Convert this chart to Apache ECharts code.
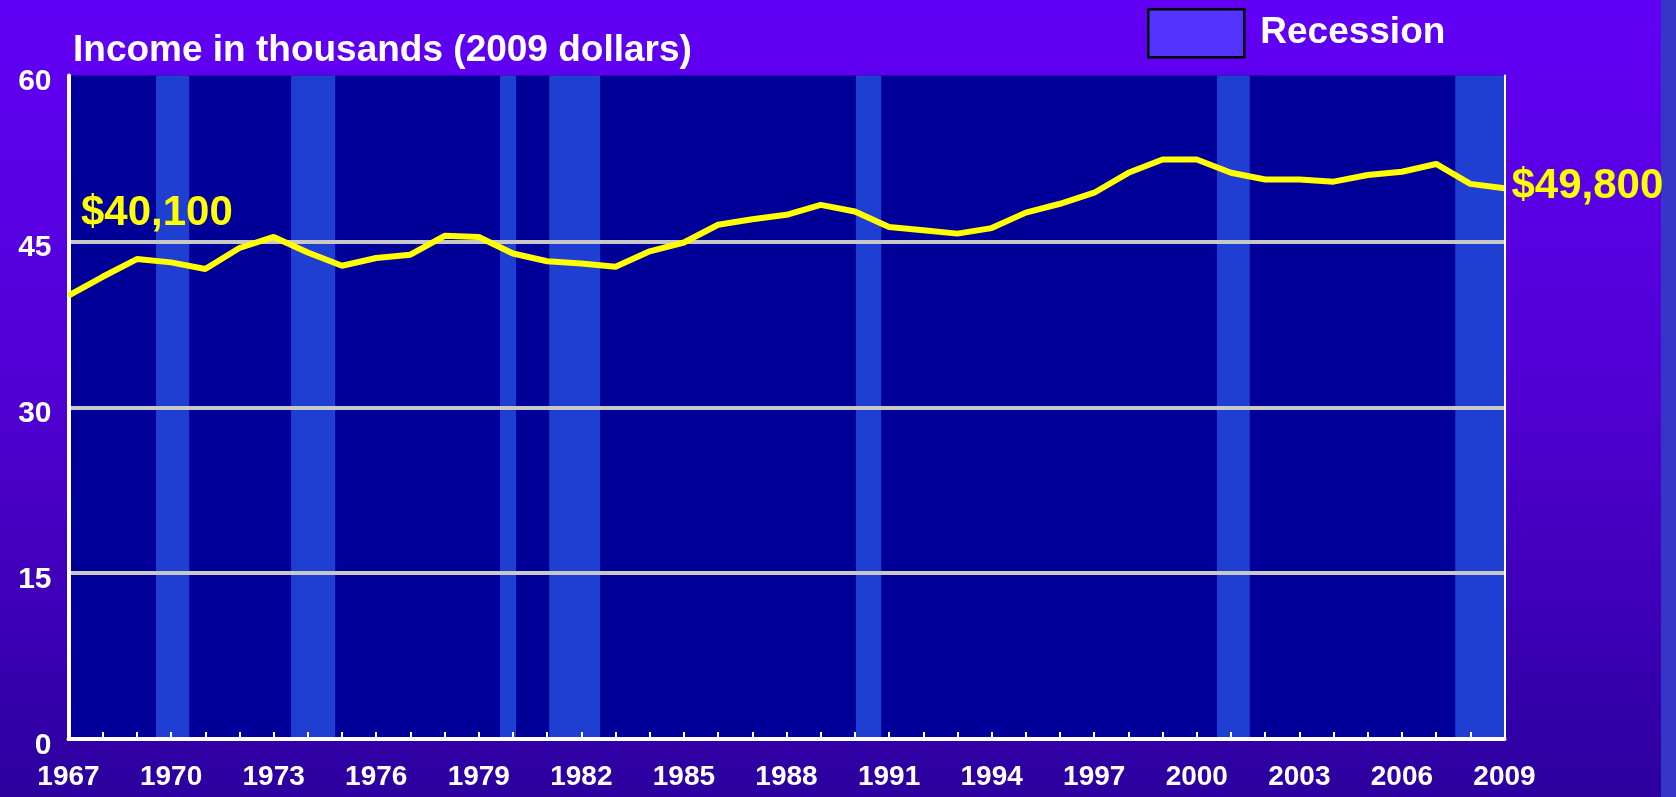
<!DOCTYPE html>
<html>
<head>
<meta charset="utf-8">
<title>Income in thousands (2009 dollars)</title>
<script src="https://cdn.jsdelivr.net/npm/echarts@6/dist/echarts.min.js"></script>
<style>
  html, body { margin: 0; padding: 0; }
  #chart { width: 1676px; height: 797px; }
</style>
</head>
<body>
<div id="chart"></div>
<script>
const years = [
  1967, 1968, 1969, 1970, 1971, 1972, 1973, 1974, 1975, 1976, 1977, 1978, 1979, 1980, 1981,
  1982, 1983, 1984, 1985, 1986, 1987, 1988, 1989, 1990, 1991, 1992, 1993, 1994, 1995, 1996,
  1997, 1998, 1999, 2000, 2001, 2002, 2003, 2004, 2005, 2006, 2007, 2008, 2009
];
const income = [
  40.1, 41.8, 43.4, 43.1, 42.5, 44.4, 45.4, 44.0, 42.8, 43.5, 43.8, 45.5, 45.4, 43.9, 43.2,
  43.0, 42.7, 44.1, 44.9, 46.5, 47.0, 47.4, 48.3, 47.7, 46.3, 46.0, 45.7, 46.2, 47.6, 48.4,
  49.4, 51.2, 52.4, 52.4, 51.2, 50.6, 50.6, 50.4, 51.0, 51.3, 52.0, 50.2, 49.8
];
// recession bands, in year units as placed on the chart
const recessions = [
  [1969.56, 1970.53], [1973.51, 1974.80], [1979.62, 1980.09], [1981.06, 1982.55],
  [1990.03, 1990.77], [2000.59, 2001.55], [2007.56, 2009.0]
];
const yTicks = [0, 15, 30, 45, 60];
const startLabel = '$40,100';
const endLabel = '$49,800';

const font = 'Liberation Sans, Arial, Helvetica, sans-serif';
const chart = echarts.init(document.getElementById('chart'));

const option = {
  backgroundColor: {
    type: 'linear', x: 0, y: 0, x2: 0, y2: 1,
    colorStops: [
      {offset: 0, color: '#6200f6'},
      {offset: 0.5, color: '#5000d2'},
      {offset: 1, color: '#2c009e'}
    ]
  },
  animation: false,
  title: {
    text: 'Income in thousands (2009 dollars)',
    left: 73,
    top: 32,
    padding: 0,
    textStyle: {color: '#fff', fontFamily: font, fontWeight: 'bold', fontSize: 37}
  },
  legend: {
    left: 1147,
    top: 8,
    padding: 0,
    icon: 'rect',
    itemWidth: 96,
    itemHeight: 48,
    data: ['Recession'],
    itemStyle: {color: '#5533ff', borderColor: '#000', borderWidth: 2.5},
    textStyle: {color: '#fff', fontFamily: font, fontWeight: 'bold', fontSize: 37, padding: [0, 0, 0, 11]}
  },
  graphic: [{
    type: 'rect',
    shape: {x: 1661, y: 0, width: 15, height: 797},
    style: {fill: '#3535c8'}
  }],
  grid: {
    left: 68.5,
    right: 171.5,
    top: 75.5,
    bottom: 58,
    show: true,
    backgroundColor: '#000099',
    borderWidth: 0
  },
  xAxis: [{
    type: 'value',
    min: 1967,
    max: 2009,
    interval: 1,
    z: 3,
    axisLine: {lineStyle: {color: '#fff', width: 4}},
    axisTick: {inside: true, length: 7, lineStyle: {color: '#fff', width: 2}},
    splitLine: {show: false},
    axisLabel: {
      color: '#fff',
      fontFamily: font,
      fontWeight: 'bold',
      fontSize: 28,
      margin: 24,
      formatter: function (value) {
        return (value - 1967) % 3 === 0 ? String(value) : '';
      }
    }
  }, {
    type: 'value',
    position: 'top',
    min: 1967,
    max: 2009,
    z: 3,
    axisLine: {lineStyle: {color: '#fff', width: 3}},
    axisTick: {show: false},
    axisLabel: {show: false},
    splitLine: {show: false}
  }],
  yAxis: [{
    type: 'value',
    min: 0,
    max: 60,
    interval: 15,
    z: 3,
    axisLine: {show: true, lineStyle: {color: '#fff', width: 4}},
    axisTick: {show: false},
    axisLabel: {
      color: '#fff',
      fontFamily: font,
      fontWeight: 'bold',
      fontSize: 30,
      margin: 17,
      formatter: function (value) {
        return yTicks.indexOf(value) >= 0 ? '{v|' + value + '}' : '';
      },
      rich: {
        v: {color: '#fff', fontFamily: font, fontWeight: 'bold', fontSize: 30, padding: [13, 0, 0, 0]}
      }
    },
    splitLine: {
      show: true,
      showMinLine: false,
      showMaxLine: false,
      lineStyle: {color: '#c8c8c8', width: 4}
    }
  }, {
    type: 'value',
    position: 'right',
    min: 0,
    max: 60,
    z: 3,
    axisLine: {show: true, lineStyle: {color: '#fff', width: 2}},
    axisTick: {show: false},
    axisLabel: {show: false},
    splitLine: {show: false}
  }],
  series: [{
    name: 'Recession',
    type: 'bar',
    data: [],
    itemStyle: {color: '#5533ff'},
    markArea: {
      silent: true,
      z: 1,
      itemStyle: {color: '#1f3fd2'},
      data: recessions.map(r => [{xAxis: r[0]}, {xAxis: r[1]}])
    }
  }, {
    name: 'Income',
    type: 'line',
    z: 5,
    symbol: 'none',
    data: years.map((y, i) => [y, income[i]]),
    lineStyle: {color: '#ffff00', width: 6},
    markPoint: {
      symbol: 'circle',
      symbolSize: 0,
      silent: true,
      label: {
        show: true,
        position: 'right',
        distance: 0,
        color: '#ffff00',
        fontFamily: font,
        fontWeight: 'bold',
        fontSize: 42
      },
      data: [
        {coord: [years[0], income[0]], value: startLabel, label: {formatter: startLabel, offset: [12.5, -82]}},
        {coord: [years[years.length - 1], income[income.length - 1]], value: endLabel, label: {formatter: endLabel, offset: [7, -2]}}
      ]
    }
  }]
};

chart.setOption(option);
</script>
</body>
</html>
